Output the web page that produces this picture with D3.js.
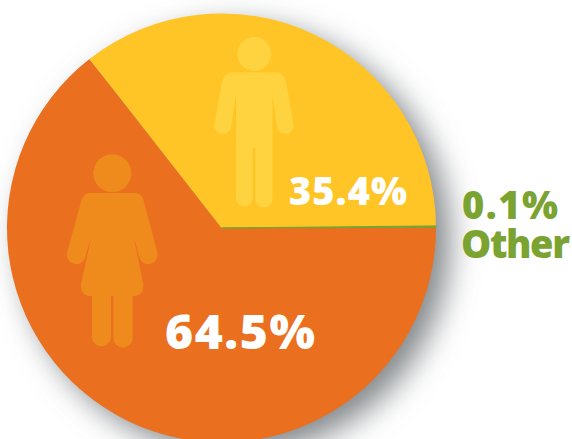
<!DOCTYPE html>
<html>
<head>
<meta charset="utf-8">
<script src="https://cdn.jsdelivr.net/npm/d3@7/dist/d3.min.js"></script>
<style>
  html, body { margin: 0; padding: 0; background: #fff; overflow: hidden; }
  text { font-family: "Open Sans", sans-serif; font-weight: 800; }
</style>
</head>
<body>
<svg id="chart" width="572" height="439"></svg>
<script>
// Share of respondents by gender
const categories = ["Male", "Other", "Female"];
const shares = [35.4, 0.1, 64.5];
const sliceColors = ["#FFC425", "#7BA331", "#EA6F1F"];
const valueLabels = ["35.4%", "0.1%", "64.5%"];

const width = 572, height = 439;
const cx = 221.5, cy = 228, radius = 214.5;
const startDeg = -38;

const svg = d3.select("#chart").attr("viewBox", [0, 0, width, height]);

// Soft drop shadow falling to the lower right of the disc
const blur = svg.append("defs").append("filter")
  .attr("id", "pie-shadow")
  .attr("x", "-20%").attr("y", "-20%")
  .attr("width", "140%").attr("height", "140%");
blur.append("feGaussianBlur").attr("stdDeviation", 15);

svg.append("circle")
  .attr("cx", cx + 14).attr("cy", cy + 12).attr("r", radius)
  .attr("fill", "#85898c")
  .attr("filter", "url(#pie-shadow)");

const pie = d3.pie()
  .sort(null)
  .value(d => d)
  .startAngle(startDeg * Math.PI / 180)
  .endAngle((startDeg + 360) * Math.PI / 180);

const arc = d3.arc().innerRadius(0).outerRadius(radius);
const color = d3.scaleOrdinal().domain(categories).range(sliceColors);

// The thin "Other" sliver is drawn last with a hairline so it stays visible
const slices = pie(shares).map((d, i) => ({ ...d, name: categories[i] }));
const g = svg.append("g").attr("transform", `translate(${cx},${cy})`);
g.selectAll("path")
  .data(slices.slice().sort((a, b) => b.data - a.data))
  .join("path")
  .attr("d", arc)
  .attr("fill", d => color(d.name))
  .attr("stroke", d => d.name === "Other" ? color(d.name) : "none")
  .attr("stroke-width", 1);

// Pictograms for the two main groups
const man = svg.append("g").attr("fill", "#FFD33F");
man.append("circle").attr("cx", 254.3).attr("cy", 54).attr("r", 17);
man.append("path").attr("d",
  "M232 72.5H276Q284 72.5 286 81L293.5 124A8.5 8.5 0 0 1 277 128L272.5 95V199" +
  "A8.5 8.5 0 0 1 255.3 199V148H252.8V199A8.5 8.5 0 0 1 236 199V95" +
  "L231 128A8.5 8.5 0 0 1 214.5 124L222 81Q224 72.5 232 72.5Z");

const woman = svg.append("g").attr("fill", "#EE8B1C");
woman.append("circle").attr("cx", 112.3).attr("cy", 173.3).attr("r", 19);
woman.append("path").attr("d",
  "M90 193H135Q141 193 143.5 200L157.3 252A9.4 9.4 0 0 1 139.5 258L133.5 236" +
  "L143.3 284Q144 296 134 296H132.7V338A9.6 9.6 0 0 1 113.4 338V296H111V338" +
  "A9.6 9.6 0 0 1 92 338V296H90Q80 296 81 284L91.5 236L85 258A9.4 9.4 0 0 1 67.2 252" +
  "L81.5 200Q84 193 90 193Z");

// Value labels
const labels = [
  { text: valueLabels[0], x: 289, y: 205, size: 38, span: 118, fill: "#fff" },
  { text: valueLabels[2], x: 165, y: 349, size: 48, span: 150, fill: "#fff" },
  { text: valueLabels[1], x: 462, y: 218.5, size: 38, span: 96, fill: sliceColors[1] },
  { text: categories[1], x: 461, y: 257.5, size: 38, span: 109, fill: sliceColors[1] }
];
svg.selectAll("text.label")
  .data(labels)
  .join("text")
  .attr("class", "label")
  .attr("x", d => d.x).attr("y", d => d.y)
  .attr("font-size", d => d.size)
  .attr("textLength", d => d.span)
  .attr("lengthAdjust", "spacing")
  .attr("fill", d => d.fill)
  .text(d => d.text);
</script>
</body>
</html>
